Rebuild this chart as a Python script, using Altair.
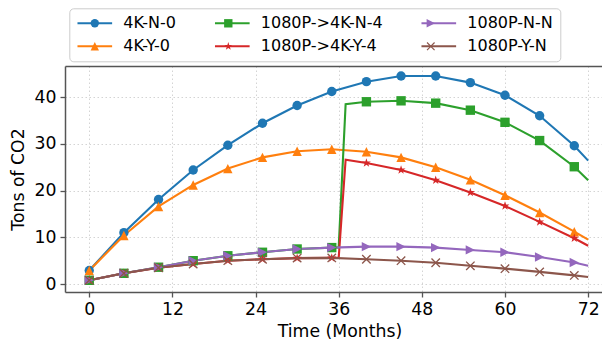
import altair as alt
import pandas as pd

# ---- data ----
months = [0, 5, 10, 15, 20, 25, 30, 35, 40, 45, 50, 55, 60, 65, 70, 72]

v_4k_n_0 = [2.9, 11.0, 18.1, 24.4, 29.7, 34.4, 38.2, 41.2, 43.3, 44.5, 44.5, 43.1, 40.4, 36.0, 29.6, 26.4]
v_4k_y_0 = [2.9, 10.4, 16.6, 21.2, 24.7, 27.1, 28.4, 28.85, 28.3, 27.1, 25.0, 22.3, 19.0, 15.3, 11.2, 9.5]
v_1080_n_n = [0.8, 2.3, 3.6, 5.0, 6.05, 6.8, 7.5, 7.8, 8.0, 8.0, 7.8, 7.3, 6.8, 5.8, 4.6, 3.9]
v_1080_y_n = [0.8, 2.3, 3.5, 4.3, 5.0, 5.3, 5.55, 5.6, 5.3, 5.0, 4.55, 3.9, 3.3, 2.6, 1.85, 1.5]

# upgrade series: same as 1080P series up to month 36, jump at month 37
up_months = [0, 5, 10, 15, 20, 25, 30, 35, 36, 37, 40, 45, 50, 55, 60, 65, 70, 72]
v_1080_4k_n_4 = [0.8, 2.3, 3.6, 5.0, 6.05, 6.8, 7.5, 7.8, 7.85, 38.5, 39.0, 39.2, 38.7, 37.2, 34.6, 30.7, 25.1, 22.2]
v_1080_4k_y_4 = [0.8, 2.3, 3.5, 4.3, 5.0, 5.3, 5.55, 5.6, 5.6, 26.6, 25.9, 24.4, 22.2, 19.6, 16.7, 13.3, 9.8, 8.2]

series_names = ["4K-N-0", "4K-Y-0", "1080P->4K-N-4", "1080P->4K-Y-4", "1080P-N-N", "1080P-Y-N"]
series_colors = ["#1f77b4", "#ff7f0e", "#2ca02c", "#d62728", "#9467bd", "#8c564b"]

# marker paths (unit box -1..1)
circle = "circle"
tri_up = "M0,-1L-1,1L1,1Z"
square = "M-1,-1L1,-1L1,1L-1,1Z"
star = ("M0,-1L-0.2245,-0.309L-0.951,-0.309L-0.363,0.118L-0.588,0.809L0,0.382"
        "L0.588,0.809L0.363,0.118L0.951,-0.309L0.2245,-0.309Z")
tri_right = "M1,0L-1,-1L-1,1Z"
xmark = ("M-0.8,-1.0L1.0,0.8L0.8,1.0L-1.0,-0.8Z"
         "M-1.0,0.8L0.8,-1.0L1.0,-0.8L-0.8,1.0Z")
series_shapes = [circle, tri_up, square, star, tri_right, xmark]

rows = []
for name, ms, vs in [
    ("4K-N-0", months, v_4k_n_0),
    ("4K-Y-0", months, v_4k_y_0),
    ("1080P->4K-N-4", up_months, v_1080_4k_n_4),
    ("1080P->4K-Y-4", up_months, v_1080_4k_y_4),
    ("1080P-N-N", months, v_1080_n_n),
    ("1080P-Y-N", months, v_1080_y_n),
]:
    for m, v in zip(ms, vs):
        rows.append({"series": name, "month": m, "value": v,
                     "marker": (m % 5 == 0 and m <= 70)})
df = pd.DataFrame(rows)

FONT = "DejaVu Sans"
AX_FS = 17.3
xscale = alt.Scale(domain=[-3.5, 74.0], nice=False, zero=False)
yscale = alt.Scale(domain=[-1.7, 46.65], nice=False, zero=False)

common_axis = dict(
    labelFont=FONT, labelFontSize=AX_FS, labelColor="black",
    titleFont=FONT, titleFontSize=AX_FS, titleColor="black", titleFontWeight="normal",
    domainColor="#555555", domainWidth=1.5,
    tickColor="#555555", tickSize=5, tickWidth=1.3,
    grid=True, gridColor="#cfcfcf", gridDash=[1.5, 2.5], gridWidth=0.9,
)
y_axis = alt.Axis(values=[0, 10, 20, 30, 40], title="Tons of CO2",
                  labelPadding=4, titlePadding=7, **common_axis)

leg_common = dict(orient="none", legendX=4.3, legendY=-57.7, columns=3, title=None,
                  labelFont=FONT, labelFontSize=16, labelLimit=0,
                  columnPadding=33.5, rowPadding=7, padding=7,
                  symbolOffset=10.5, labelOffset=20.5)

line_sym = "M-3.5,0H3.5"

color_line = alt.Color("series:N",
                       scale=alt.Scale(domain=series_names, range=series_colors),
                       legend=alt.Legend(symbolType=line_sym, symbolSize=98,
                                         symbolStrokeWidth=2.1, labelColor="black",
                                         strokeColor="#cccccc",
                                         fillColor="rgba(255,255,255,0.8)",
                                         cornerRadius=4, **leg_common))

lines = alt.Chart(df).mark_line(strokeWidth=2.1).encode(
    x=alt.X("month:Q", scale=xscale,
            axis=alt.Axis(values=[0, 12, 24, 36, 48, 60, 72], title="Time (Months)",
                          labelPadding=3, titlePadding=5, titleX=274.5,
                          **common_axis)),
    y=alt.Y("value:Q", scale=yscale, axis=y_axis),
    color=color_line,
    order=alt.Order("month:Q"),
)

pt_legend = alt.Legend(symbolSize=70, labelOpacity=0, **leg_common)

points = alt.Chart(df).transform_filter("datum.marker").mark_point(
    filled=True, size=88, opacity=1, strokeWidth=0
).encode(
    x=alt.X("month:Q", scale=xscale,
            axis=alt.Axis(orient="top", labels=False, ticks=False, grid=False,
                          title=None, domain=True, domainColor="#555555",
                          domainWidth=1.5)),
    y=alt.Y("value:Q", scale=yscale, axis=y_axis),
    color=alt.Color("series:N",
                    scale=alt.Scale(domain=series_names, range=series_colors),
                    legend=pt_legend),
    shape=alt.Shape("series:N",
                    scale=alt.Scale(domain=series_names, range=series_shapes),
                    legend=pt_legend),
)

chart = alt.layer(lines, points).resolve_scale(
    color="independent", shape="independent"
).resolve_legend(
    color="independent", shape="independent"
).resolve_axis(x="independent").properties(
    width=537, height=226,
    autosize=alt.AutoSizeParams(type="none"),
    padding={"left": 57, "top": 58, "right": 0, "bottom": 49},
).configure(font=FONT, background="white").configure_view(stroke=None)

chart.save("out.html", embed_options={"renderer": "svg", "actions": False})
